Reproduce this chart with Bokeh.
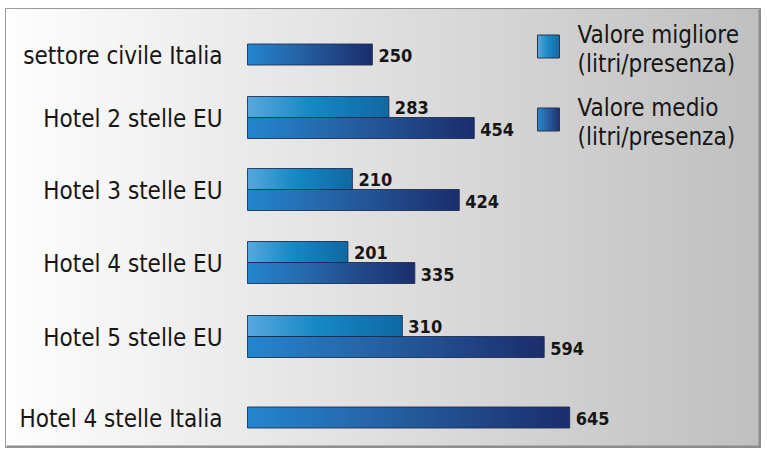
import numpy as np
from bokeh.plotting import figure
from bokeh.models import Range1d, ColumnDataSource
from bokeh.core.properties import value
from bokeh.embed import file_html
from bokeh.resources import INLINE

# ---- data ----
categories = ["settore civile Italia", "Hotel 2 stelle EU", "Hotel 3 stelle EU",
              "Hotel 4 stelle EU", "Hotel 5 stelle EU", "Hotel 4 stelle Italia"]
valore_migliore = [None, 283, 210, 201, 310, None]
valore_medio = [250, 454, 424, 335, 594, 645]
legend_labels = [["Valore migliore", "(litri/presenza)"], ["Valore medio", "(litri/presenza)"]]

# ---- layout ----
FW, FH = 755, 439          # frame size
BL, BT, BR, BB = 5, 8, 2, 3
PX_PER_UNIT = 0.4995
ZERO_PX = 242
row_centers = [46, 109, 181, 254, 328, 409]  # px from frame top
BAR_H = 21
FONT = "DejaVu Sans Condensed"

x0 = -ZERO_PX / PX_PER_UNIT
x1 = x0 + FW / PX_PER_UNIT

def px2x(px):
    return x0 + px / PX_PER_UNIT

p = figure(width=FW + BL + BR, height=FH + BT + BB, output_backend="svg",
           toolbar_location=None, x_range=Range1d(x0, x1), y_range=Range1d(FH, 0),
           min_border_left=BL, min_border_top=BT, min_border_right=BR,
           min_border_bottom=BB)
p.axis.visible = False
p.grid.visible = False
p.outline_line_color = "#7a7a7a"
p.outline_line_width = 1
p.border_fill_color = "white"
p.background_fill_color = "white"

# background gradient
n = 256
t = np.linspace(0, 1, n)
g = (254 - t * 62).astype(np.uint8)
img = np.zeros((1, n), dtype=np.uint32)
view = img.view(dtype=np.uint8).reshape((1, n, 4))
view[0, :, 0] = g
view[0, :, 1] = g
view[0, :, 2] = g
view[0, :, 3] = 255
p.image_rgba(image=[img], x=x0, y=0, dw=x1 - x0, dh=FH)

# frame shadow (right and bottom)
p.line(x=[px2x(1), px2x(FW - 1), px2x(FW - 1)], y=[FH - 1, FH - 1, 1],
       line_color="#8c8c8c", line_width=2)

def hex2rgb(h):
    h = h.lstrip("#")
    return np.array([int(h[i:i + 2], 16) for i in (0, 2, 4)], dtype=float)

def grad_color(stops, f):
    for (a, ca), (b, cb) in zip(stops[:-1], stops[1:]):
        if a <= f <= b:
            k = (f - a) / (b - a) if b > a else 0
            c = hex2rgb(ca) * (1 - k) + hex2rgb(cb) * k
            return "#%02x%02x%02x" % tuple(int(round(v)) for v in c)
    return stops[-1][1]

stops_medio = [(0, "#2386ce"), (0.35, "#2668ac"), (1, "#1c2d6c")]
stops_migl = [(0, "#58a8de"), (0.45, "#1688c4"), (1, "#0f69a4")]

NSEG = 60

def gradient_bars(vals, ycent, stops, height=BAR_H):
    lefts, rights, ys, cols = [], [], [], []
    for v, yc in zip(vals, ycent):
        if v is None:
            continue
        for i in range(NSEG):
            lefts.append(v * i / NSEG)
            rights.append(v * (i + 1) / NSEG + (0 if i == NSEG - 1 else 2.5))
            ys.append(yc)
            cols.append(grad_color(stops, (i + 0.5) / NSEG))
    src = ColumnDataSource(dict(left=lefts, right=rights, y=ys, color=cols))
    p.hbar(y="y", left="left", right="right", height=height, fill_color="color",
           line_color=None, source=src)

paired = [m is not None for m in valore_migliore]
y_medio = [c + BAR_H / 2 if pr else c for c, pr in zip(row_centers, paired)]
y_migl = [c - BAR_H / 2 for c in row_centers]

gradient_bars(valore_medio, y_medio, stops_medio)
gradient_bars(valore_migliore, y_migl, stops_migl)

# outlines
p.hbar(y=y_medio, left=0, right=valore_medio, height=BAR_H, fill_color=None,
       line_color="#1d2c50", line_width=1, line_alpha=0.85)
mv = [(v, y) for v, y in zip(valore_migliore, y_migl) if v is not None]
p.hbar(y=[y for _, y in mv], left=0, right=[v for v, _ in mv], height=BAR_H,
       fill_color=None, line_color="#1d2c50", line_width=1, line_alpha=0.85)

# category labels
p.text(x=[0] * len(categories), y=[c + 1 for c in row_centers], text=categories,
       x_offset=-25, text_align="right", text_baseline="middle", text_font=value(FONT),
       text_font_size="24px", text_color="#161616")

# value labels
p.text(x=valore_medio, y=[y + 1 for y in y_medio], text=[str(v) for v in valore_medio],
       x_offset=6, text_align="left", text_baseline="middle", text_font=value(FONT),
       text_font_size="18px", text_font_style="bold", text_color="#161616")
p.text(x=[v for v, _ in mv], y=[y for _, y in mv], text=[str(v) for v, _ in mv],
       x_offset=6, text_align="left", text_baseline="middle", text_font=value(FONT),
       text_font_size="18px", text_font_style="bold", text_color="#161616")

# legend
leg_sq_y = [38, 111]
leg_stops = [stops_migl, stops_medio]
SQ_L, SQ_R = 532, 554
for yc, st in zip(leg_sq_y, leg_stops):
    k = 11
    edges = [px2x(SQ_L + (SQ_R - SQ_L) * i / k) for i in range(k + 1)]
    p.hbar(y=[yc] * k, left=edges[:-1], right=[e + 0.8 for e in edges[1:]],
           height=23, fill_color=[grad_color(st, (i + 0.5) / k) for i in range(k)],
           line_color=None)
    p.hbar(y=[yc], left=[px2x(SQ_L)], right=[px2x(SQ_R)], height=23,
           fill_color=None, line_color="#2a3550", line_width=1)
ltx, lty = [], []
for yc, lines in zip(leg_sq_y, legend_labels):
    for j, ln in enumerate(lines):
        ltx.append(px2x(572))
        lty.append(yc - 12 + j * 29)
p.text(x=ltx, y=lty, text=[ln for lines in legend_labels for ln in lines],
       text_align="left", text_baseline="middle", text_font=value(FONT),
       text_font_size="24px", text_color="#161616")

open("out.html", "w").write(file_html(p, INLINE))
